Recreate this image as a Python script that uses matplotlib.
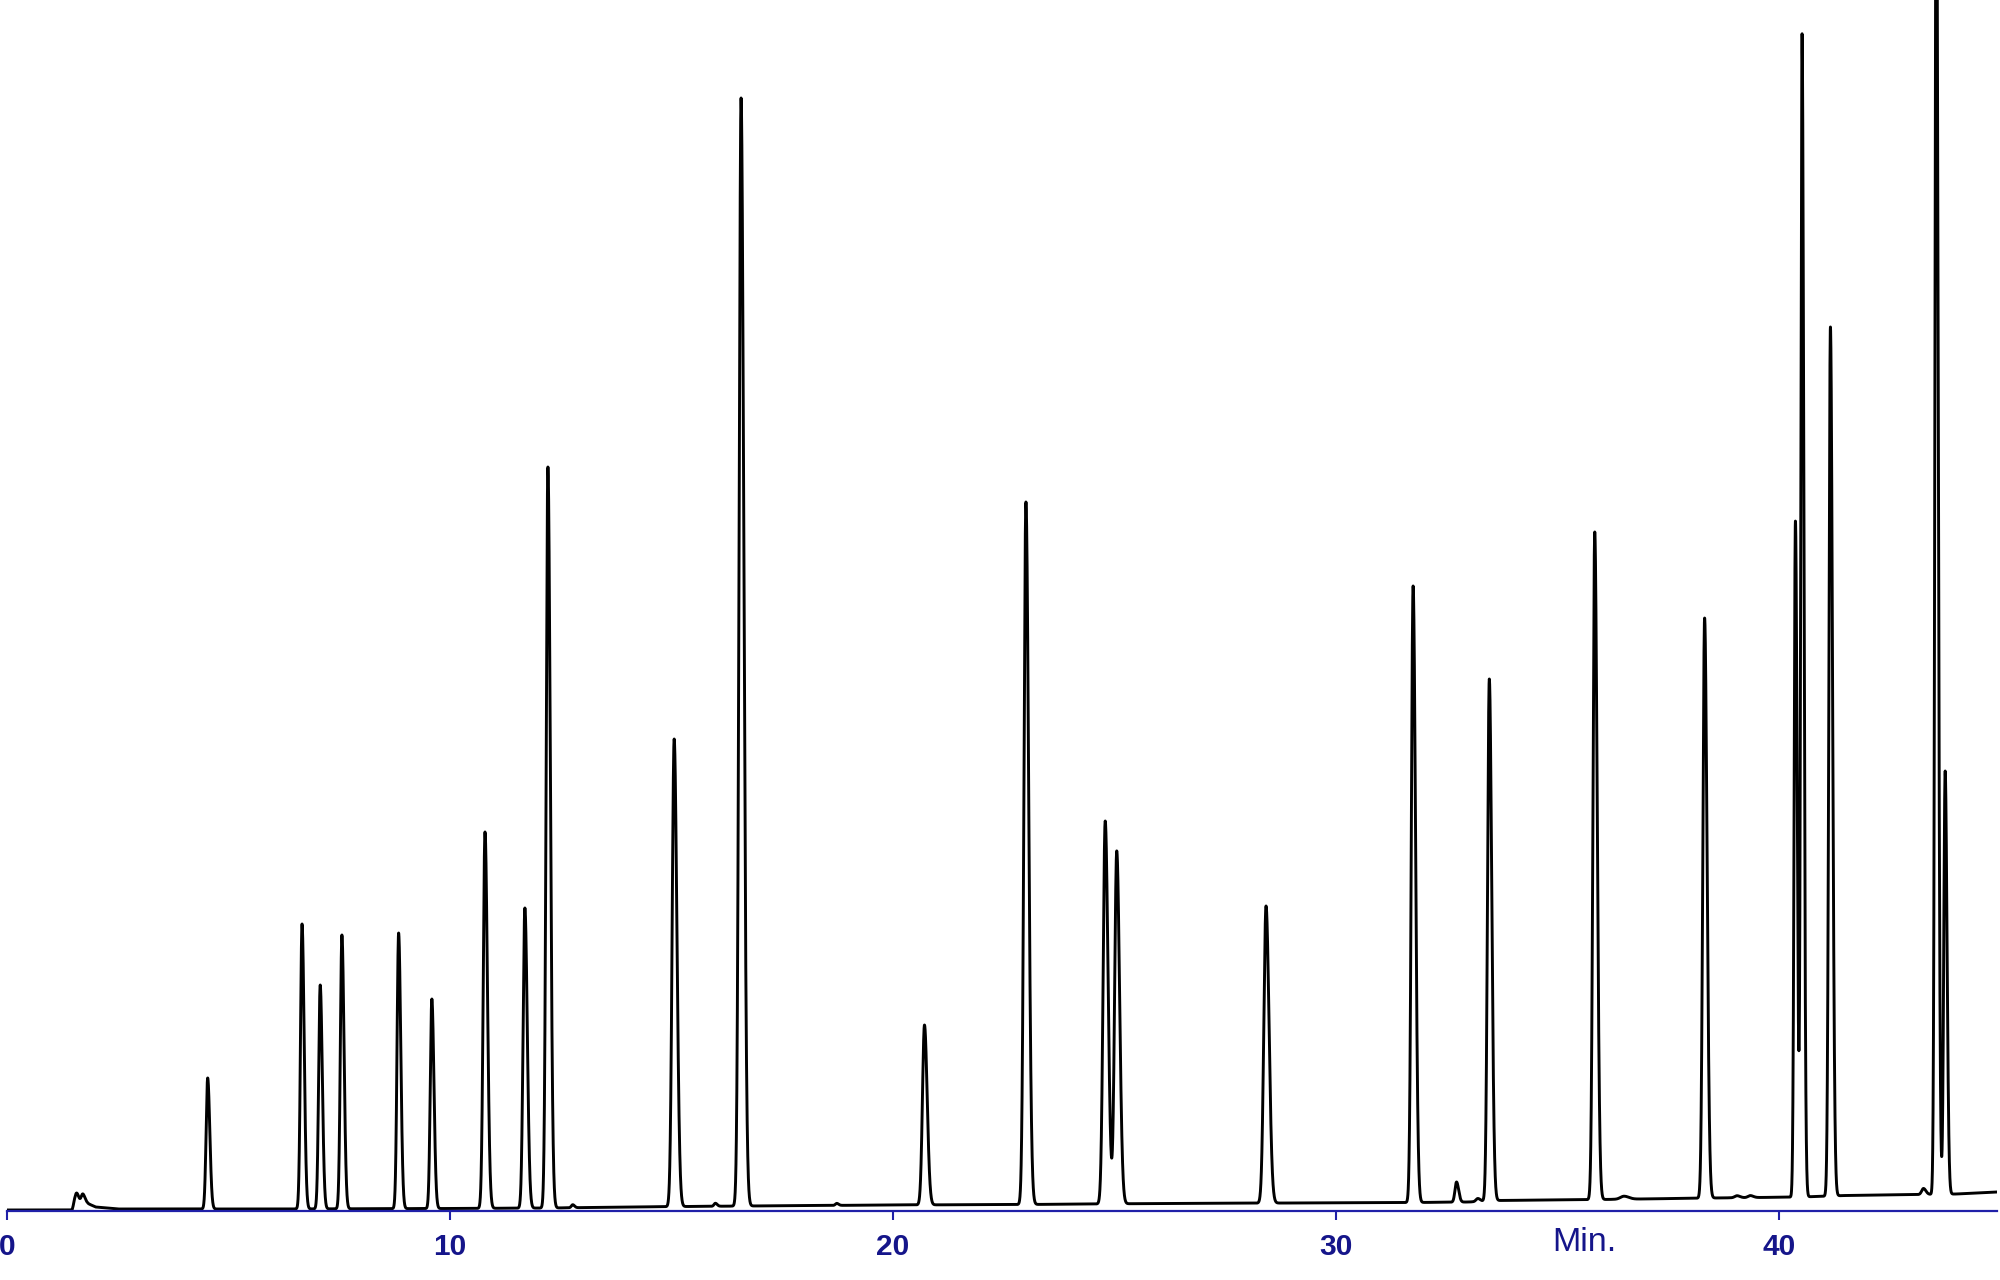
import numpy as np
import matplotlib.pyplot as plt

plt.rcParams['font.family'] = ['Liberation Sans', 'DejaVu Sans']

# peak table: retention time (min), apex height above axis, width (sigma, min)
peak_time = [4.53, 6.66, 7.07, 7.56, 8.84, 9.59, 10.79, 11.69, 12.21, 15.06, 16.57,
             20.71, 23.00, 24.79, 25.05, 28.42, 31.74, 32.72, 33.46, 35.84, 38.32,
             40.37, 40.52, 41.16, 43.55, 43.75]
peak_height = [133, 287, 226, 276, 278, 212, 379, 303, 744, 472, 1113,
               186, 709, 390, 360, 305, 625, 29, 532, 679, 593,
               690, 1177, 884, 1400, 440]
peak_sigma = [0.035, 0.035, 0.035, 0.035, 0.035, 0.035, 0.04, 0.04, 0.04, 0.045, 0.045,
              0.045, 0.045, 0.047, 0.047, 0.05, 0.04, 0.035, 0.04, 0.04, 0.04,
              0.029, 0.029, 0.035, 0.031, 0.031]

# small bumps (solvent front, minor impurities)
small_time = [1.57, 1.71, 12.77, 15.99, 18.73, 33.2, 36.5, 39.05, 39.35, 43.26]
small_height = [10, 9, 3, 3, 2, 3, 3, 2, 2, 6]
small_sigma = [0.035, 0.035, 0.03, 0.03, 0.03, 0.04, 0.08, 0.05, 0.05, 0.04]

# baseline drift above the axis line
base_time = [0, 1.47, 1.52, 1.80, 2.0, 2.5, 6, 10, 12.3, 14, 16.7, 20, 23, 26, 29,
             31.8, 33, 33.6, 36, 38.5, 40.5, 41.5, 43.2, 44, 44.92]
base_level = [1, 1, 8, 8, 4, 2, 2, 2.5, 3, 4, 5, 6, 6.5, 7.5, 8,
              8.5, 9, 10.5, 11.5, 13, 14, 15.5, 16.5, 17, 19]

tail = 1.35
t = np.linspace(0, 44.92, 30000)
baseline = np.interp(t, base_time, base_level)
signal = baseline.copy()
for pt, ph, ps in zip(peak_time + small_time, peak_height + small_height, peak_sigma + small_sigma):
    amp = ph - np.interp(pt, base_time, base_level) if ph > 20 else ph
    s = np.where(t < pt, ps, ps * tail)
    signal += amp * np.exp(-0.5 * ((t - pt) / s) ** 2)

navy = '#15158a'
blue = '#2020a8'

fig = plt.figure(figsize=(20, 12.8), dpi=100)
ax = fig.add_axes([0.0035, 1 - 1211 / 1280, 0.995, 1211 / 1280])
ax.plot(t, signal, color='black', lw=2.1)
ax.set_xlim(0, 44.92)
ax.set_ylim(0, 1211)

for side in ['top', 'left', 'right']:
    ax.spines[side].set_visible(False)
ax.spines['bottom'].set_color(blue)
ax.spines['bottom'].set_linewidth(1.6)
ax.set_yticks([])
ax.set_xticks([0, 10, 20, 30, 40])
ax.tick_params(axis='x', direction='out', length=6.5, width=1.5, color=blue,
               labelcolor=navy, labelsize=21.5, pad=9)
for lab in ax.get_xticklabels():
    lab.set_fontweight('bold')
ax.text(35.6, -0.0256, 'Min.', transform=ax.get_xaxis_transform(),
        ha='center', va='center', fontsize=24.5, color=navy)

fig.savefig('out.png', dpi=100)
